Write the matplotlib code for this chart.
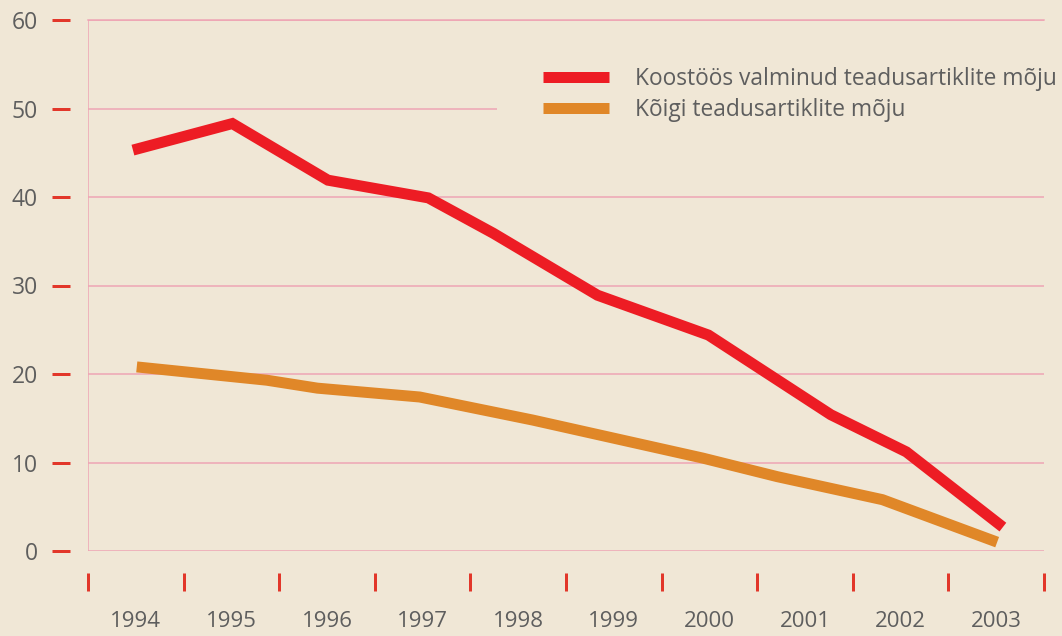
import matplotlib
matplotlib.use('Agg')
import matplotlib.pyplot as plt
from matplotlib.ticker import FixedLocator, NullFormatter, FixedFormatter

# data (x in years, vertices are not always on the year centre)
years = [1994, 1995, 1996, 1997, 1998, 1999, 2000, 2001, 2002, 2003]
coop_x = [1993.97, 1995.01, 1996.01, 1997.06, 1997.74, 1998.83, 1999.99, 2001.27, 2002.06, 2003.07]
coop_y = [45.3, 48.3, 41.9, 39.9, 35.9, 28.9, 24.4, 15.4, 11.2, 2.7]
all_x = [1994.01, 1995.37, 1995.90, 1996.97, 1998.15, 1999.93, 2000.71, 2001.81, 2003.01]
all_y = [20.8, 19.3, 18.4, 17.4, 14.8, 10.5, 8.4, 5.8, 1.0]
labels = ['Koostöös valminud teadusartiklite mõju', 'Kõigi teadusartiklite mõju']
y_ticks = [0, 10, 20, 30, 40, 50, 60]

bg = '#f0e7d6'
red = '#ed1c24'
orange = '#e08728'
pink = '#eea4b4'
tick_red = '#e2372a'
grey = '#5e5e5e'

plt.rcParams['font.family'] = ['Open Sans', 'DejaVu Sans']

W, H, dpi = 1062, 636, 100
px = 72.0 / dpi  # one pixel in points

fig = plt.figure(figsize=(W / dpi, H / dpi), dpi=dpi, facecolor=bg)
ax = fig.add_axes([88 / W, (H - 551) / H, (1044 - 88) / W, (551 - 20) / H])
ax.set_facecolor(bg)

x_lo, x_hi = years[0] - 0.5, years[-1] + 0.5
ax.set_xlim(x_lo, x_hi)
ax.set_ylim(0, 60)

lw = 11 * px
ax.plot(coop_x, coop_y, color=red, lw=lw, solid_capstyle='butt',
        solid_joinstyle='miter', label=labels[0], zorder=2)
ax.plot(all_x, all_y, color=orange, lw=lw, solid_capstyle='butt',
        solid_joinstyle='miter', label=labels[1], zorder=2)

# grid + left pink edge
ax.set_axisbelow(True)
ax.yaxis.grid(True, color=pink, lw=1.5 * px)
ax.axvline(x_lo, color=pink, lw=1.5 * px, zorder=1)

for s in ['right', 'bottom', 'left']:
    ax.spines[s].set_visible(False)
ax.spines['top'].set_color(pink)
ax.spines['top'].set_linewidth(1.5 * px)
ax.spines['top'].set_zorder(3)

# y ticks: red dashes standing off the plot
ax.spines['left'].set_position(('outward', 18 * px))
ax.set_yticks(y_ticks)
ax.tick_params(axis='y', direction='out', length=18 * px, width=3 * px,
               color=tick_red, pad=14 * px, labelsize=16.5, labelcolor=grey)

# x ticks: separators between years, labels in the middle
ax.spines['bottom'].set_position(('outward', 40 * px))
ax.xaxis.set_major_locator(FixedLocator([y - 0.5 for y in years] + [years[-1] + 0.5]))
ax.xaxis.set_major_formatter(NullFormatter())
ax.xaxis.set_minor_locator(FixedLocator(years))
ax.xaxis.set_minor_formatter(FixedFormatter([str(y) for y in years]))
ax.tick_params(axis='x', which='major', direction='in', length=18 * px,
               width=3 * px, color=tick_red)
ax.tick_params(axis='x', which='minor', length=0, pad=20 * px,
               labelsize=16, labelcolor=grey)

fs = 16.4
fs_px = fs / px
leg = ax.legend(loc='upper left', bbox_to_anchor=(497 / W, (H - 21) / H),
                bbox_transform=fig.transFigure, fontsize=fs, frameon=True,
                facecolor=bg, edgecolor='none', framealpha=1, fancybox=False,
                borderpad=(543 - 497) / fs_px, handlelength=66 / fs_px,
                handletextpad=26 / fs_px, labelspacing=0.3, borderaxespad=0)
for t in leg.get_texts():
    t.set_color(grey)
leg.set_zorder(2.8)

fig.savefig('out.png', dpi=dpi, facecolor=bg)
